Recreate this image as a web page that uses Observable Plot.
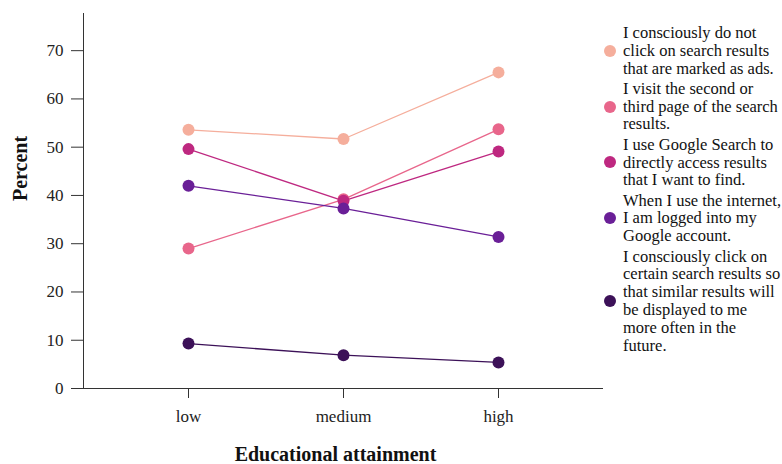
<!DOCTYPE html>
<html>
<head>
<meta charset="utf-8">
<script src="https://cdn.jsdelivr.net/npm/d3@7"></script>
<script src="https://cdn.jsdelivr.net/npm/@observablehq/plot@0.6"></script>
<style>
  html, body { margin: 0; padding: 0; background: #fff; overflow: hidden; }
  #wrap { position: relative; width: 782px; height: 464px; font-family: "Liberation Serif", serif; overflow: hidden; }
  #chart { position: absolute; left: 0; top: 0; }
  #legend { position: absolute; left: 602px; top: 24px; width: 220px; color: #111; font-size: 16.5px; line-height: 17.8px; }
  .item { position: relative; padding-left: 21px; margin-bottom: 2.5px; white-space: nowrap; }
  .dot { position: absolute; left: 2px; top: 50%; width: 12px; height: 12px; margin-top: -6px; border-radius: 50%; }
</style>
</head>
<body>
<div id="wrap"><div id="chart"></div><div id="legend"></div></div>
<script>
const levels = ["low", "medium", "high"];
const seriesNames = [
  "I consciously do not click on search results that are marked as ads.",
  "I visit the second or third page of the search results.",
  "I use Google Search to directly access results that I want to find.",
  "When I use the internet, I am logged into my Google account.",
  "I consciously click on certain search results so that similar results will be displayed to me more often in the future."
];
const legendLines = [
  ["I consciously do not", "click on search results", "that are marked as ads."],
  ["I visit the second or", "third page of the search", "results."],
  ["I use Google Search to", "directly access results", "that I want to find."],
  ["When I use the internet,", "I am logged into my", "Google account."],
  ["I consciously click on", "certain search results so", "that similar results will", "be displayed to me", "more often in the", "future."]
];
const adsValues = [53.6, 51.7, 65.5];
const secondPageValues = [29.0, 39.2, 53.7];
const directValues = [49.6, 38.9, 49.1];
const loggedInValues = [42.0, 37.3, 31.4];
const similarValues = [9.3, 6.9, 5.4];
const seriesColors = ["#f5ae9c", "#e8668b", "#be2880", "#6a1f97", "#3c1158"];
const yTicks = [0, 10, 20, 30, 40, 50, 60, 70];

const allValues = [adsValues, secondPageValues, directValues, loggedInValues, similarValues];
const data = [];
seriesNames.forEach((s, i) => levels.forEach((lv, j) => data.push({series: s, level: lv, value: allValues[i][j]})));

const chart = Plot.plot({
  width: 605,
  height: 464,
  marginLeft: 83,
  marginRight: 2,
  marginTop: 13,
  marginBottom: 76,
  style: {fontFamily: "Liberation Serif, serif", fontSize: "17px", color: "#222", background: "#fff"},
  x: {type: "point", domain: levels, padding: 0.667, label: null},
  y: {domain: [0, 77.7], label: null},
  color: {domain: seriesNames, range: seriesColors},
  marks: [
    Plot.axisY({ticks: yTicks, tickSize: 12, tickPadding: 8, label: null, stroke: "#333", fontSize: 17}),
    Plot.axisX({tickSize: 10, tickPadding: 11, label: null, stroke: "#333", fontSize: 17}),
    Plot.frame({anchor: "left", stroke: "#333"}),
    Plot.ruleY([0], {stroke: "#333"}),
    Plot.line(data, {x: "level", y: "value", z: "series", stroke: "series", strokeWidth: 1.3}),
    Plot.dot(data, {x: "level", y: "value", fill: "series", r: 6}),
    Plot.text(["Percent"], {frameAnchor: "left", dx: -63, rotate: -90, fontWeight: "bold", fontSize: 20, fill: "#111"}),
    Plot.text(["Educational attainment"], {frameAnchor: "bottom", dx: -8, dy: 72, fontWeight: "bold", fontSize: 20, fill: "#111"})
  ]
});
document.getElementById("chart").appendChild(chart);

const legend = document.getElementById("legend");
legendLines.forEach((lines, i) => {
  const item = document.createElement("div");
  item.className = "item";
  const dot = document.createElement("span");
  dot.className = "dot";
  dot.style.background = seriesColors[i];
  item.appendChild(dot);
  lines.forEach(l => { const d = document.createElement("div"); d.textContent = l; item.appendChild(d); });
  legend.appendChild(item);
});
</script>
</body>
</html>
